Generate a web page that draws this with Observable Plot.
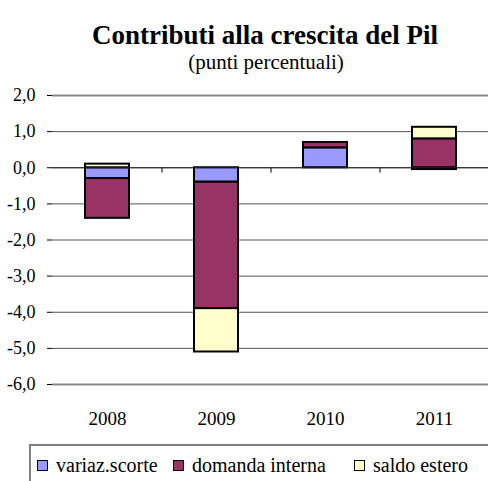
<!DOCTYPE html>
<html>
<head>
<meta charset="utf-8">
<script src="https://cdn.jsdelivr.net/npm/d3@7"></script>
<script src="https://cdn.jsdelivr.net/npm/@observablehq/plot@0.6"></script>
<style>
  html, body { margin: 0; padding: 0; background: #fff; width: 488px; height: 481px; overflow: hidden; }
  body { position: relative; font-family: "Liberation Serif", serif; color: #000; }
  #title { position: absolute; top: 20px; left: 0; width: 530px; text-align: center; font-weight: bold; font-size: 27px; line-height: 30px; }
  #subtitle { position: absolute; top: 49px; left: 0; width: 532px; text-align: center; font-size: 21px; line-height: 26px; }
  #chart { position: absolute; top: 80px; left: 0; }
  #legend { position: absolute; top: 444px; left: 29px; width: 480px; height: 40px; border: 2px solid #808080; box-sizing: border-box; font-size: 20px; }
  .item { position: absolute; top: 8px; white-space: nowrap; }
  .sw { display: inline-block; width: 9px; height: 9px; border: 1.5px solid #000; margin-right: 8px; vertical-align: 1px; }
  #chart svg text { font-family: "Liberation Serif", serif; }
</style>
</head>
<body>
<div id="title">Contributi alla crescita del Pil</div>
<div id="subtitle">(punti percentuali)</div>
<div id="chart"></div>
<div id="legend"></div>
<script>
const years = ["2008", "2009", "2010", "2011"];
const seriesNames = ["variaz.scorte", "domanda interna", "saldo estero"];
const seriesColors = ["#9999FF", "#993366", "#FFFFCC"];
const variazScorte = [-0.3, -0.4, 0.55, -0.05];
const domandaInterna = [-1.1, -3.5, 0.15, 0.8];
const saldoEstero = [0.1, -1.2, 0.0, 0.32];
const yTicks = [2, 1, 0, -1, -2, -3, -4, -5, -6];

const seriesValues = [variazScorte, domandaInterna, saldoEstero];
const data = [];
seriesNames.forEach((s, i) => years.forEach((y, j) => data.push({year: y, series: s, value: seriesValues[i][j]})));

const fmt = d => d.toFixed(1).replace(".", ",");
const width = 488, marginLeft = 52, marginRight = 0;
const step = (width - marginLeft - marginRight) / years.length;

const chart = Plot.plot({
  width, height: 360,
  marginLeft, marginRight, marginTop: 15, marginBottom: 56,
  style: {fontFamily: '"Liberation Serif", serif', fontSize: "18px", color: "#000", background: "transparent"},
  x: {domain: years, paddingInner: 0.6, paddingOuter: 0.3, label: null},
  y: {domain: [-6, 2], label: null},
  color: {domain: seriesNames, range: seriesColors},
  marks: [
    Plot.ruleY(yTicks.filter(d => d > -6 && d < 2), {stroke: "#555", strokeWidth: 1}),
    Plot.ruleY([2, -6], {stroke: "#888", strokeWidth: 2}),
    Plot.barY(data, Plot.stackY({x: "year", y: "value", fill: "series", order: seriesNames, stroke: "#000", strokeWidth: 2})),
    Plot.ruleX(years.slice(1), {x: d => d, y1: 0, y2: -0.15, dx: -step / 2, stroke: "#000", strokeWidth: 1}),
    Plot.ruleY([0], {stroke: "#222", strokeWidth: 1}),
    Plot.ruleX([0], {frameAnchor: "left", stroke: "#000", strokeWidth: 2}),
    Plot.axisY({ticks: yTicks, tickFormat: fmt, tickSize: 5, tickPadding: 12, stroke: "#000", fontSize: 18}),
    Plot.axisX({tickSize: 0, tickPadding: 27, fontSize: 19})
  ]
});
document.getElementById("chart").appendChild(chart);

const legend = document.getElementById("legend");
const lefts = [6, 142, 323];
seriesNames.forEach((s, i) => {
  const it = document.createElement("div");
  it.className = "item";
  it.style.left = lefts[i] + "px";
  const sw = document.createElement("span");
  sw.className = "sw";
  sw.style.background = seriesColors[i];
  it.appendChild(sw);
  it.appendChild(document.createTextNode(s));
  legend.appendChild(it);
});
</script>
</body>
</html>
